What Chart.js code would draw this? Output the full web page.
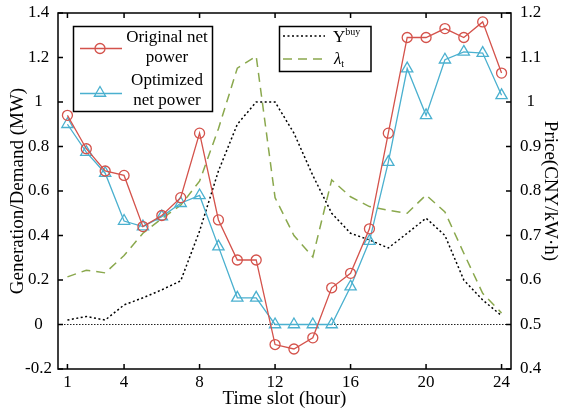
<!DOCTYPE html>
<html>
<head>
<meta charset="utf-8">
<script src="https://cdn.jsdelivr.net/npm/chart.js@4.4.1/dist/chart.umd.min.js"></script>
<style>
  html, body { margin: 0; padding: 0; background: #fff; }
  #wrap { width: 561px; height: 411px; }
</style>
</head>
<body>
<div id="wrap"><canvas id="c" width="561" height="411"></canvas></div>
<script>
// time slots and the values
const hours = [1, 2, 3, 4, 5, 6, 7, 8, 9, 10, 11, 12, 13, 14, 15, 16, 17, 18, 19, 20, 21, 22, 23, 24];
const xTicks = [1, 4, 8, 12, 16, 20, 24];
const originalNet = [0.94, 0.79, 0.69, 0.67, 0.44, 0.49, 0.57, 0.86, 0.47, 0.29, 0.29, -0.09, -0.11, -0.06, 0.165, 0.23, 0.43, 0.86, 1.29, 1.29, 1.33, 1.29, 1.36, 1.13];
const optimizedNet = [0.90, 0.775, 0.68, 0.465, 0.44, 0.485, 0.545, 0.58, 0.35, 0.12, 0.12, 0, 0, 0, 0, 0.17, 0.375, 0.73, 1.15, 0.94, 1.19, 1.225, 1.22, 1.03];
const buyPrice = [0.51, 0.518, 0.51, 0.544, 0.56, 0.578, 0.598, 0.71, 0.845, 0.95, 1.0, 1.0, 0.93, 0.835, 0.75, 0.705, 0.69, 0.672, 0.705, 0.739, 0.70, 0.60, 0.555, 0.52];
const lambdaPrice = [0.607, 0.622, 0.616, 0.655, 0.705, 0.738, 0.768, 0.822, 0.94, 1.076, 1.103, 0.785, 0.70, 0.652, 0.825, 0.787, 0.765, 0.757, 0.75, 0.791, 0.753, 0.66, 0.57, 0.526];

const SERIF = '"Liberation Serif", "Times New Roman", serif';
const RED = '#d4524b';
const BLUE = '#4ab0cf';
const OLIVE = '#8aa84d';

const pts = arr => arr.map((v, i) => ({ x: hours[i], y: v }));
const fmt = v => String(+v.toFixed(1));

// fixed box sizes so the plot area lands where the figure has it
const fixWidth = w => s => { s.width = w; s.paddingTop = 0; s.paddingBottom = 0; };
const fixHeight = h => s => { s.height = h; s.paddingLeft = 0; s.paddingRight = 0; };

function circle(ctx, x, y, r) {
    ctx.beginPath();
    ctx.arc(x, y, r, 0, Math.PI * 2);
    ctx.stroke();
}
function triangle(ctx, x, y, r) {
    ctx.beginPath();
    ctx.moveTo(x, y - r);
    ctx.lineTo(x + 0.866 * r, y + 0.5 * r);
    ctx.lineTo(x - 0.866 * r, y + 0.5 * r);
    ctx.closePath();
    ctx.stroke();
}

// zero line, closed frame with inward ticks, and the two boxed legends
const framePlugin = {
    id: 'frame',
    beforeDatasetsDraw(chart) {
        const { ctx, chartArea: a, scales } = chart;
        const y0 = scales.y.getPixelForValue(0);
        ctx.save();
        ctx.strokeStyle = '#222';
        ctx.lineWidth = 1;
        ctx.setLineDash([1.5, 1.5]);
        ctx.beginPath();
        ctx.moveTo(a.left, y0);
        ctx.lineTo(a.right, y0);
        ctx.stroke();
        ctx.restore();
    },
    afterDraw(chart) {
        const { ctx, chartArea: a, scales } = chart;
        const L = 5;
        ctx.save();
        ctx.strokeStyle = '#000';
        ctx.lineWidth = 1.5;
        ctx.strokeRect(a.left, a.top, a.right - a.left, a.bottom - a.top);
        ctx.beginPath();
        scales.x.ticks.forEach(t => {
            const px = scales.x.getPixelForValue(t.value);
            ctx.moveTo(px, a.bottom); ctx.lineTo(px, a.bottom - L);
            ctx.moveTo(px, a.top); ctx.lineTo(px, a.top + L);
        });
        scales.y.ticks.forEach(t => {
            const py = scales.y.getPixelForValue(t.value);
            ctx.moveTo(a.left, py); ctx.lineTo(a.left + L, py);
        });
        scales.y1.ticks.forEach(t => {
            const py = scales.y1.getPixelForValue(t.value);
            ctx.moveTo(a.right, py); ctx.lineTo(a.right - L, py);
        });
        ctx.stroke();

        // legend 1
        ctx.fillStyle = '#fff';
        ctx.fillRect(73.5, 26.5, 139, 85);
        ctx.strokeRect(73.5, 26.5, 139, 85);
        ctx.lineWidth = 1.3;
        ctx.strokeStyle = RED;
        ctx.beginPath(); ctx.moveTo(80, 48.5); ctx.lineTo(122, 48.5); ctx.stroke();
        circle(ctx, 100, 48.5, 5);
        ctx.strokeStyle = BLUE;
        ctx.beginPath(); ctx.moveTo(80, 93.5); ctx.lineTo(122, 93.5); ctx.stroke();
        triangle(ctx, 100, 93, 6.5);
        ctx.fillStyle = '#000';
        ctx.font = '17px ' + SERIF;
        ctx.textAlign = 'center';
        ctx.textBaseline = 'middle';
        ctx.fillText('Original net', 167, 38);
        ctx.fillText('power', 167, 58);
        ctx.fillText('Optimized', 167, 81);
        ctx.fillText('net power', 167, 101);

        // legend 2
        ctx.strokeStyle = '#000';
        ctx.lineWidth = 1.5;
        ctx.fillStyle = '#fff';
        ctx.fillRect(279.5, 26.5, 91.5, 45);
        ctx.strokeRect(279.5, 26.5, 91.5, 45);
        ctx.setLineDash([2, 2.5]);
        ctx.beginPath(); ctx.moveTo(283, 36); ctx.lineTo(325, 36); ctx.stroke();
        ctx.strokeStyle = OLIVE;
        ctx.setLineDash([9, 6]);
        ctx.beginPath(); ctx.moveTo(283, 59); ctx.lineTo(325, 59); ctx.stroke();
        ctx.setLineDash([]);
        ctx.fillStyle = '#000';
        ctx.textAlign = 'left';
        ctx.textBaseline = 'alphabetic';
        ctx.font = '17px ' + SERIF;
        ctx.fillText('\u03A5', 333, 42);
        let w = ctx.measureText('\u03A5').width;
        ctx.font = '10px ' + SERIF;
        ctx.fillText('buy', 333 + w, 35);
        ctx.font = 'italic 17px ' + SERIF;
        ctx.fillText('\u03BB', 334, 64);
        w = ctx.measureText('\u03BB').width;
        ctx.font = '10px ' + SERIF;
        ctx.fillText('t', 334 + w, 67);
        ctx.restore();
    }
};

new Chart(document.getElementById('c'), {
    type: 'line',
    data: {
        datasets: [
            {
                label: 'Original net power',
                data: pts(originalNet),
                yAxisID: 'y',
                borderColor: RED,
                borderWidth: 1.3,
                pointStyle: 'circle',
                pointRadius: 5,
                pointBorderColor: RED,
                pointBackgroundColor: 'rgba(0,0,0,0)',
                pointBorderWidth: 1.3,
                tension: 0
            },
            {
                label: 'Optimized net power',
                data: pts(optimizedNet),
                yAxisID: 'y',
                borderColor: BLUE,
                borderWidth: 1.3,
                pointStyle: 'triangle',
                pointRadius: 6.5,
                pointBorderColor: BLUE,
                pointBackgroundColor: 'rgba(0,0,0,0)',
                pointBorderWidth: 1.3,
                tension: 0
            },
            {
                label: 'Buy price',
                data: pts(buyPrice),
                yAxisID: 'y1',
                borderColor: '#000',
                borderWidth: 1.5,
                borderDash: [2, 2.5],
                pointRadius: 0,
                tension: 0
            },
            {
                label: 'Lambda',
                data: pts(lambdaPrice),
                yAxisID: 'y1',
                borderColor: OLIVE,
                borderWidth: 1.5,
                borderDash: [9, 6],
                pointRadius: 0,
                tension: 0
            }
        ]
    },
    options: {
        responsive: false,
        animation: false,
        devicePixelRatio: 1,
        layout: { padding: { top: 13, left: 0, right: 0, bottom: 0 } },
        plugins: { legend: { display: false }, tooltip: { enabled: false } },
        scales: {
            x: {
                type: 'linear',
                min: 0.5,
                max: 24.5,
                afterBuildTicks: s => { s.ticks = xTicks.map(v => ({ value: v })); },
                afterFit: fixHeight(42),
                grid: { display: false, drawTicks: false },
                border: { display: false },
                ticks: { color: '#000', font: { family: SERIF, size: 17 }, padding: 3, maxRotation: 0, autoSkip: false, callback: v => String(v) },
                title: { display: true, text: 'Time slot (hour)', color: '#000', font: { family: SERIF, size: 19 }, padding: { top: 0, bottom: 1 } }
            },
            y: {
                position: 'left',
                min: -0.2,
                max: 1.4,
                afterFit: fixWidth(58),
                grid: { display: false, drawTicks: false },
                border: { display: false },
                ticks: { stepSize: 0.2, color: '#000', font: { family: SERIF, size: 17 }, padding: 6, crossAlign: 'center', callback: fmt },
                title: { display: true, text: 'Generation/Demand (MW)', color: '#000', font: { family: SERIF, size: 19 }, padding: { top: 7, bottom: 0 } }
            },
            y1: {
                position: 'right',
                min: 0.4,
                max: 1.2,
                afterFit: fixWidth(50),
                grid: { display: false, drawTicks: false },
                border: { display: false },
                ticks: { stepSize: 0.1, color: '#000', font: { family: SERIF, size: 17 }, padding: 9, crossAlign: 'center', callback: fmt },
                title: { display: true, text: 'Price(CNY/kW\u00B7h)', color: '#000', font: { family: SERIF, size: 19 }, padding: { top: 0, bottom: 0 } }
            }
        }
    },
    plugins: [framePlugin]
});
</script>
</body>
</html>
